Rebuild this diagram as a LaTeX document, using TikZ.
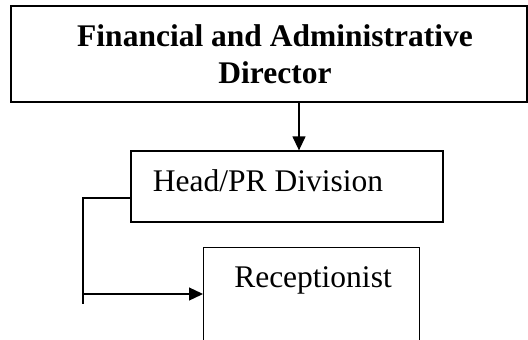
\documentclass[tikz,border=0pt]{standalone}
\usepackage{fontspec}
\setmainfont{Liberation Serif}
\usetikzlibrary{arrows.meta}
\begin{document}
\begin{tikzpicture}[x=1pt,y=-1pt,
  unitbox/.style={draw,line width=1.3pt,inner sep=0pt,rectangle},
  topbox/.style={draw,line width=2.2pt,inner sep=0pt,rectangle},
  label/.style={inner sep=0pt,font=\fontsize{31.5}{36.5}\selectfont},
  link/.style={line width=1.3pt},
  arr/.style={link,-{Triangle[length=14pt,width=13pt]}}]
\clip (0,0) rectangle (528,340);
% director box
\node[topbox,minimum width=516pt,minimum height=96pt] (dir) at (269,54) {};
\node[label,font=\fontsize{31.5}{36.5}\selectfont\bfseries,align=center,anchor=base]
  (dirtext) at (275,83) {Financial and Administrative\\Director};
% head of division
\node[unitbox,minimum width=312pt,minimum height=71pt] (head) at (287,186.5) {};
\node[label,anchor=base] (headtext) at (268,191) {Head/PR Division};
% receptionist, open below the frame
\node[unitbox,anchor=north west,minimum width=216pt,minimum height=130pt] (rec) at (203,247) {};
\node[label,anchor=base] (rectext) at (313,287) {Receptionist};
% connectors
\coordinate (elbow) at (83,198);
\coordinate (elbowend) at (83,304);
\coordinate (branch) at (83,294);
\draw[arr] (dir.south -| 299,0) -- (head.north -| 299,0);
\draw[link] (head.west |- elbow) -- (elbow) -- (elbowend);
\draw[arr] (branch) -- (rec.west |- branch);
\end{tikzpicture}
\end{document}
